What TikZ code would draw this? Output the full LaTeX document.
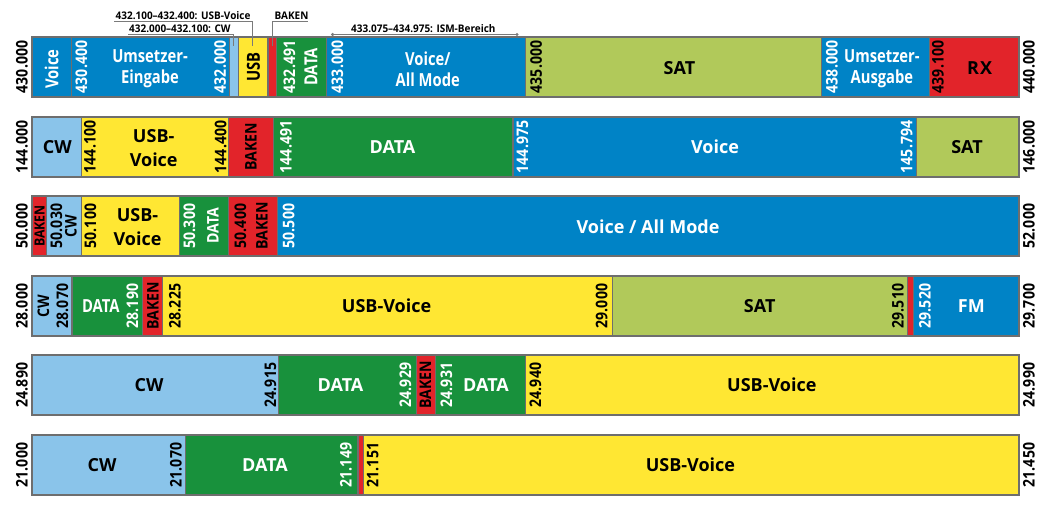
\documentclass[tikz,border=0pt]{standalone}
\usepackage{fontspec}
\setmainfont{Open Sans}
\newfontfamily\numfont{Open Sans}[FakeStretch=0.88]
\newfontfamily\condfont{Open Sans}[FakeStretch=0.82]
\newfontfamily\notefont{Open Sans}[FakeStretch=0.95]
\definecolor{voiceblue}{HTML}{0083C6}
\definecolor{cwblue}{HTML}{8AC4EA}
\definecolor{usbyellow}{HTML}{FFE733}
\definecolor{bakenred}{HTML}{E2242A}
\definecolor{datagreen}{HTML}{18913C}
\definecolor{satgreen}{HTML}{B1C95A}
\definecolor{edgegray}{HTML}{6E6E6E}
\definecolor{leadgray}{HTML}{7A7A7A}
\def\seg[#1](#2:#3:#4){\draw[seg,fill=#1] (#2,#4) rectangle (#3,#4+60);}
\tikzset{
  seg/.style={draw=edgegray, line width=1.1pt},
  num/.style={rotate=90, inner sep=0pt, font=\numfont\bfseries\fontsize{16}{16}\selectfont},
  lbl/.style={inner sep=0pt, align=center, font=\bfseries\fontsize{18}{24}\selectfont},
  clbl/.style={inner sep=0pt, align=center, font=\condfont\bfseries\fontsize{18}{21}\selectfont},
  note/.style={inner sep=0pt, anchor=base west, font=\notefont\bfseries\fontsize{10.5}{12}\selectfont},
  lead/.style={draw=leadgray, line width=0.8pt},
}

\begin{document}
\begin{tikzpicture}[x=1pt,y=-1pt]
			\useasboundingbox (0,0) rectangle (1057,516);
			%%%%% 430 MHz %%%%%
			\seg[voiceblue](32:71.5:37)
			\seg[voiceblue](71.5:229.6:37)
			\seg[cwblue](229.6:238.8:37)
			\seg[usbyellow](238.8:268:37)
			\seg[bakenred](268:276.6:37)
			\seg[datagreen](276.6:326.5:37)
			\seg[voiceblue](326.5:525.5:37)
			\seg[satgreen](525.5:821.5:37)
			\seg[voiceblue](821.5:929.8:37)
			\seg[bakenred](929.8:1019:37)
			
			\node[num] (f430000) at (22, 67) {430.000};
			\node[clbl, rotate=90, text=white] (v430) at (51.5, 69) {Voice};
			\node[num, text=white] (f430400) at (81.5, 67) {430.400};
			\node[clbl, text=white] (ein430) at (150, 69) {Umsetzer-\\Eingabe};
			\node[num, text=white] (f432000) at (220.3, 67) {432.000};
			\node[clbl, rotate=90] (usb430) at (253.5, 67) {USB};
			\node[num, text=white] (f432491) at (289.5, 67) {432.491};
			\node[clbl, rotate=90, text=white] (d430) at (311, 67) {DATA};
			\node[num, text=white] (f433000) at (337.5, 67) {433.000};
			\node[clbl, text=white] (am430) at (427.8, 69) {Voice/\\All Mode};
			\node[num] (f435000) at (536.2, 67) {435.000};
			\node[lbl] (sat430) at (679.4, 68) {SAT};
			\node[num, text=white] (f438000) at (832, 67) {438.000};
			\node[clbl, text=white] (aus430) at (881.9, 69) {Umsetzer-\\Ausgabe};
			\node[num] (f439100) at (938, 67) {439.100};
			\node[lbl] (rx430) at (979.6, 68) {R\kern1pt X};
			\node[num] (f440000) at (1029, 67) {440.000};
			
			% notes above the 430 MHz band
			\node[note] (usbnote) at (115.5, 19.5) {432.100–432.400: USB-Voice};
			\node[note] (cwnote) at (129, 32.2) {432.000–432.100: CW};
			\node[note] (baknote) at (274.5, 19.5) {BAKEN};
			\node[note] (ismnote) at (351, 32.2) {433.075–434.975: ISM-Bereich};
			\coordinate (usbend) at (252.5, 46);
			\coordinate (cwend) at (233.5, 46);
			\coordinate (bakend) at (272.5, 46);
			\coordinate (ismlo) at (332.6, 34.5);
			\coordinate (ismhi) at (517, 34.5);
			\draw[lead] (114, 21.5) -- (usbend |- 0, 21.5) -- (usbend);
			\draw[lead] (128, 34) -- (cwend |- 0, 34) -- (cwend);
			\draw[lead] (307.5, 21.5) -- (bakend |- 0, 21.5) -- (bakend);
			\draw[lead] (ismlo) -- (ismhi);
			\fill[leadgray] (ismlo) circle (1.7);
			\fill[leadgray] (ismhi) circle (1.7);
			
			%%%%% 144 MHz %%%%%
			\seg[cwblue](32:81.4:117)
			\seg[usbyellow](81.4:228.9:117)
			\seg[bakenred](228.9:273.9:117)
			\seg[datagreen](273.9:513:117)
			\seg[voiceblue](513:916.7:117)
			\seg[satgreen](916.7:1019:117)
			
			\node[num] (f144000) at (22, 147) {144.000};
			\node[lbl] (cw144) at (57.4, 147) {CW};
			\node[num] (f144100) at (90, 147) {144.100};
			\node[lbl] (usb144) at (153.7, 148) {USB-\\Voice};
			\node[num] (f144400) at (220.6, 147) {144.400};
			\node[num] (bak144) at (250.9, 147) {BAKEN};
			\node[num, text=white] (f144491) at (286, 147) {144.491};
			\node[lbl, text=white] (d144) at (392.5, 147) {DATA};
			\node[num, text=white] (f144975) at (522.5, 147) {144.975};
			\node[lbl, text=white] (v144) at (715, 147) {Voice};
			\node[num, text=white] (f145794) at (906.7, 147) {145.794};
			\node[lbl] (sat144) at (967, 147) {SAT};
			\node[num] (f146000) at (1029, 147) {146.000};
			
			%%%%% 50 MHz %%%%%
			\seg[bakenred](32:46.4:196)
			\seg[cwblue](46.4:81.4:196)
			\seg[usbyellow](81.4:179.4:196)
			\seg[datagreen](179.4:228.9:196)
			\seg[bakenred](228.9:277.7:196)
			\seg[voiceblue](277.7:1019:196)
			
			\node[num] (f50000) at (22, 226) {50.000};
			\node[num, font=\numfont\bfseries\fontsize{14}{14}\selectfont] (bak50a) at (39.5, 226) {BAKEN};
			\node[num] (f50030) at (56.5, 226) {50.030};
			\node[num] (cw50) at (71, 226) {CW};
			\node[num] (f50100) at (90.5, 226) {50.100};
			\node[lbl] (usb50) at (137.5, 227) {USB-\\Voice};
			\node[num, text=white] (f50300) at (189.5, 226) {50.300};
			\node[num, text=white] (d50) at (213, 226) {DATA};
			\node[num] (f50400) at (240.5, 226) {50.400};
			\node[num] (bak50b) at (262, 226) {BAKEN};
			\node[num, text=white] (f50500) at (288.7, 226) {50.500};
			\node[lbl, text=white] (am50) at (648, 227) {Voice / All Mode};
			\node[num] (f52000) at (1029, 226) {52.000};
			
			%%%%% 28 MHz %%%%%
			\seg[cwblue](32:72:276)
			\seg[datagreen](72:142.5:276)
			\seg[bakenred](142.5:162.4:276)
			\seg[usbyellow](162.4:612.6:276)
			\seg[satgreen](612.6:907.8:276)
			\seg[bakenred](907.8:913.9:276)
			\seg[voiceblue](913.9:1019:276)
			
			\node[num] (f28000) at (22, 306) {28.000};
			\node[num] (cw28) at (43.3, 306) {CW};
			\node[num] (f28070) at (62.5, 306) {28.070};
			\node[clbl, text=white] (d28) at (100.8, 306) {DATA};
			\node[num, text=white] (f28190) at (132.5, 306) {28.190};
			\node[num] (bak28) at (153, 306) {BAKEN};
			\node[num] (f28225) at (175, 306) {28.225};
			\node[lbl] (usb28) at (386.6, 306) {USB-Voice};
			\node[num] (f29000) at (601.7, 306) {29.000};
			\node[lbl] (sat28) at (759.7, 306) {SAT};
			\node[num] (f29510) at (897.9, 306) {29.510};
			\node[num, text=white] (f29520) at (924.9, 306) {29.520};
			\node[lbl, text=white] (fm28) at (971.4, 306) {FM};
			\node[num] (f29700) at (1029, 306) {29.700};
			
			%%%%% 24 MHz %%%%%
			\seg[cwblue](32:278.4:355)
			\seg[datagreen](278.4:416.5:355)
			\seg[bakenred](416.5:435.7:355)
			\seg[datagreen](435.7:525.3:355)
			\seg[usbyellow](525.3:1019:355)
			
			\node[num] (f24890) at (22, 385) {24.890};
			\node[lbl] (cw24) at (149, 385) {CW};
			\node[num] (f24915) at (270.5, 385) {24.915};
			\node[lbl, text=white] (d24a) at (340.5, 385) {DATA};
			\node[num, text=white] (f24929) at (405.5, 385) {24.929};
			\node[num] (bak24) at (425.4, 385) {BAKEN};
			\node[num, text=white] (f24931) at (446.4, 385) {24.931};
			\node[lbl, text=white] (d24b) at (486, 385) {DATA};
			\node[num] (f24940) at (535.5, 385) {24.940};
			\node[lbl] (usb24) at (771.8, 385) {USB-Voice};
			\node[num] (f24990) at (1029, 385) {24.990};
			
			%%%%% 21 MHz %%%%%
			\seg[cwblue](32:185.6:435)
			\seg[datagreen](185.6:358:435)
			\seg[bakenred](358:363.2:435)
			\seg[usbyellow](363.2:1019:435)
			
			\node[num] (f21000) at (22, 465) {21.000};
			\node[lbl] (cw21) at (102, 465) {CW};
			\node[num] (f21070) at (176, 465) {21.070};
			\node[lbl, text=white] (d21) at (265, 465) {DATA};
			\node[num, text=white] (f21149) at (346, 465) {21.149};
			\node[num] (f21151) at (372.8, 465) {21.151};
			\node[lbl] (usb21) at (690.4, 465) {USB-Voice};
			\node[num] (f21450) at (1029, 465) {21.450};
		\end{tikzpicture}
\end{document}
